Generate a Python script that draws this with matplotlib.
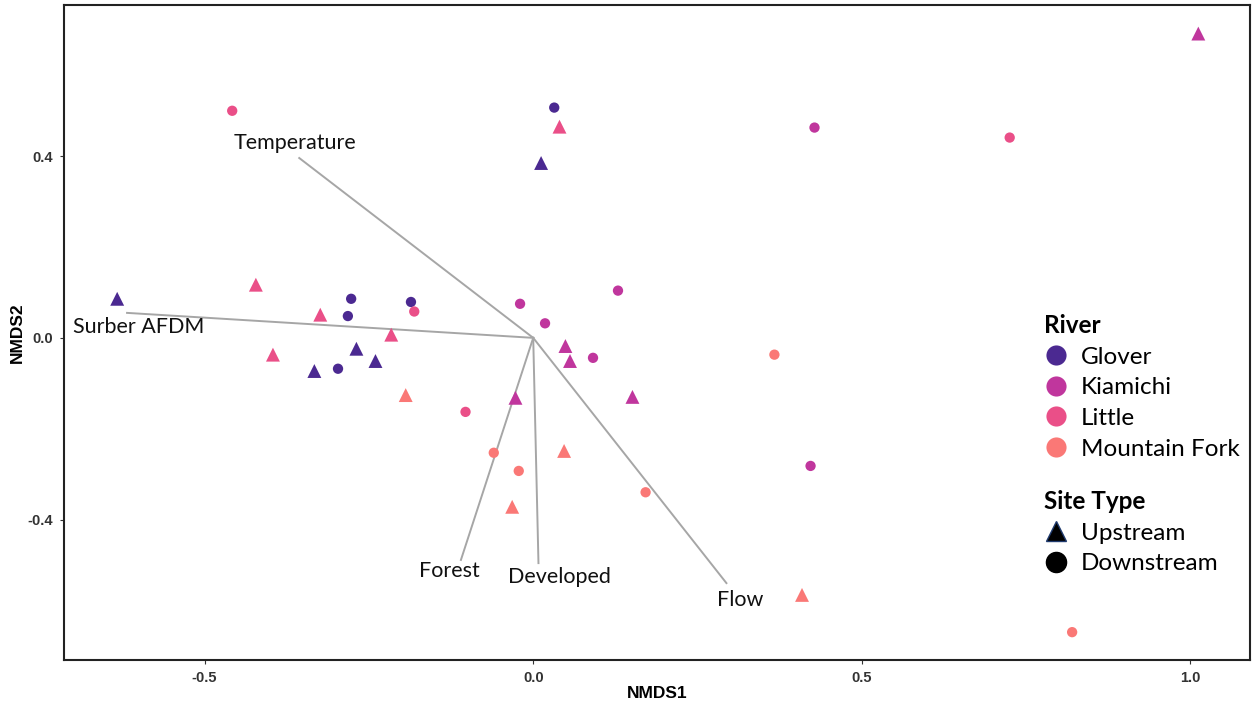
import numpy as np
import matplotlib.pyplot as plt
from matplotlib.lines import Line2D

# NMDS site scores
glover_x = [-0.633, 0.012, -0.269, -0.240, -0.333, 0.032, -0.277, -0.282, -0.186, -0.297]
glover_y = [0.086, 0.385, -0.024, -0.051, -0.073, 0.507, 0.086, 0.048, 0.079, -0.068]
glover_type = ["Up", "Up", "Up", "Up", "Up", "Down", "Down", "Down", "Down", "Down"]

kiamichi_x = [1.012, 0.049, 0.056, -0.027, 0.151, 0.428, -0.020, 0.018, 0.129, 0.091, 0.422]
kiamichi_y = [0.670, -0.018, -0.051, -0.132, -0.130, 0.463, 0.075, 0.032, 0.104, -0.044, -0.282]
kiamichi_type = ["Up", "Up", "Up", "Up", "Up", "Down", "Down", "Down", "Down", "Down", "Down"]

little_x = [0.040, -0.422, -0.324, -0.396, -0.216, -0.458, -0.181, -0.103, 0.725]
little_y = [0.465, 0.117, 0.051, -0.037, 0.007, 0.500, 0.058, -0.163, 0.441]
little_type = ["Up", "Up", "Up", "Up", "Up", "Down", "Down", "Down", "Down"]

mfork_x = [-0.194, 0.047, -0.032, 0.409, -0.060, -0.022, 0.171, 0.367, 0.820]
mfork_y = [-0.126, -0.249, -0.372, -0.566, -0.253, -0.293, -0.340, -0.037, -0.648]
mfork_type = ["Up", "Up", "Up", "Up", "Down", "Down", "Down", "Down", "Down"]

# environmental vectors
vec_names = ["Temperature", "Surber AFDM", "Forest", "Developed", "Flow"]
vec_x = [-0.356, -0.618, -0.110, 0.008, 0.294]
vec_y = [0.396, 0.055, -0.489, -0.496, -0.540]

rivers = ["Glover", "Kiamichi", "Little", "Mountain Fork"]
colors = ["#4B2991", "#C0369D", "#EA4F88", "#FA7876"]
data = [(glover_x, glover_y, glover_type),
        (kiamichi_x, kiamichi_y, kiamichi_type),
        (little_x, little_y, little_type),
        (mfork_x, mfork_y, mfork_type)]

plt.rcParams['font.family'] = ['Lato', 'DejaVu Sans']
tick_font = ['Liberation Sans Narrow', 'Liberation Sans']

fig = plt.figure(figsize=(12.54, 7.08), dpi=100)
ax = fig.add_axes([0.051, 0.068, 0.946, 0.925])

# vectors
for name, vx, vy in zip(vec_names, vec_x, vec_y):
    ax.plot([0, vx], [0, vy], color="#A6A6A6", lw=1.4, zorder=1)

label_off = {"Temperature": (-0.006, 0.034), "Surber AFDM": (0.017, -0.031),
             "Forest": (-0.018, -0.024), "Developed": (0.032, -0.030),
             "Flow": (0.021, -0.037)}
for name, vx, vy in zip(vec_names, vec_x, vec_y):
    dx, dy = label_off[name]
    ax.text(vx + dx, vy + dy, name, fontsize=15.5, ha="center", va="center", color="#111111")

# points
for (xs, ys, ts), c in zip(data, colors):
    xs = np.array(xs); ys = np.array(ys); ts = np.array(ts)
    up = ts == "Up"
    ax.scatter(xs[up], ys[up], marker="^", s=100, color=c, edgecolors="none", zorder=3)
    ax.scatter(xs[~up], ys[~up], marker="o", s=55, color=c, edgecolors="none", zorder=3)

ax.set_xlim(-0.714, 1.091)
ax.set_ylim(-0.709, 0.733)
ax.set_xticks([-0.5, 0.0, 0.5, 1.0])
ax.set_yticks([-0.4, 0.0, 0.4])
ax.set_xticklabels(["-0.5", "0.0", "0.5", "1.0"])
ax.set_yticklabels(["-0.4", "0.0", "0.4"])
for lab in ax.get_xticklabels() + ax.get_yticklabels():
    lab.set_family(tick_font)
    lab.set_fontweight("bold")
    lab.set_fontsize(10.5)
    lab.set_color("#333333")
ax.tick_params(length=3, width=0.8, color="#333333", pad=5)
for sp in ax.spines.values():
    sp.set_linewidth(1.5)
    sp.set_color("#222222")
ax.set_xlabel("NMDS1", family=tick_font, fontweight="bold", fontsize=12.5, labelpad=1)
ax.set_ylabel("NMDS2", family=tick_font, fontweight="bold", fontsize=12.5, labelpad=2)

# legends
leg_kw = dict(loc="upper left", frameon=False, fontsize=17.5,
              title_fontproperties={"weight": "bold", "size": 17.5, "family": "Lato"},
              alignment="left", handlelength=1.0, handletextpad=0.5,
              labelspacing=0.4, borderpad=0.0)
river_handles = [Line2D([], [], marker="o", ls="none", markersize=14.5, color=c,
                        markeredgecolor="none") for c in colors]
leg1 = ax.legend(river_handles, rivers, title="River",
                 bbox_to_anchor=(0.816, 0.547), **leg_kw)
ax.add_artist(leg1)
site_handles = [Line2D([], [], marker="^", ls="none", markersize=15, color="black",
                       markeredgecolor="#1F3A6E"),
                Line2D([], [], marker="o", ls="none", markersize=14.5, color="black")]
ax.legend(site_handles, ["Upstream", "Downstream"], title="Site Type",
          bbox_to_anchor=(0.816, 0.278), **leg_kw)

fig.savefig("out.png", dpi=100)
